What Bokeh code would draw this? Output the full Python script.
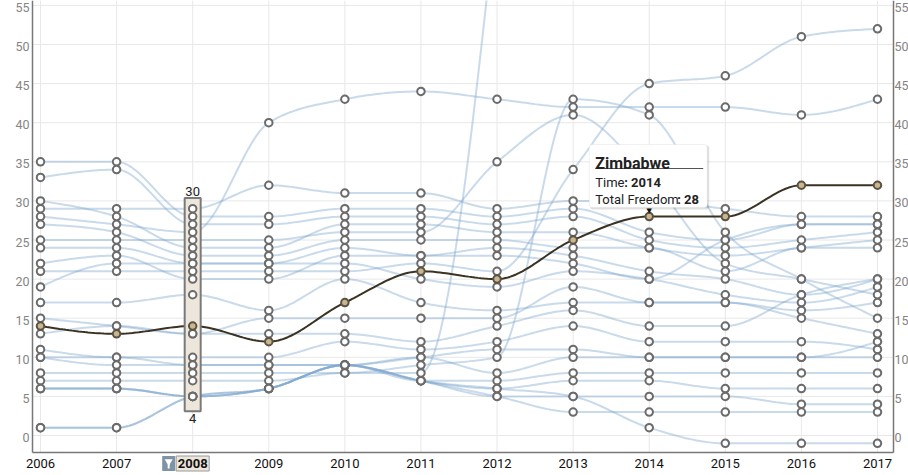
import numpy as np
from bokeh.plotting import figure
from bokeh.models import Range1d, Label, BoxAnnotation
from bokeh.core.properties import value
from bokeh.embed import file_html
from bokeh.resources import INLINE

nan = float("nan")

# Total Freedom score per year
years = [2006, 2007, 2008, 2009, 2010, 2011, 2012, 2013, 2014, 2015, 2016, 2017]
y_ticks = [0, 5, 10, 15, 20, 25, 30, 35, 40, 45, 50, 55]

zimbabwe = [14, 13, 14, 12, 17, 21, 20, 25, 28, 28, 32, 32]

s01 = [28, 27, 26, 40, 43, 44, 43, 42, 42, 42, 41, 43]
s02 = [21, 21, 21, 21, 21, 22, 21, 34, 45, 46, 51, 52]
s03 = [29, 29, 29, 32, 31, 31, 29, 30, 30, 29, 28, 28]
s04 = [25, 25, 25, 25, 26, 26, 35, 41, 33, 22, 20, 18]
s05 = [8, 8, 8, 8, 8, 9, 10, 43, 41, 26, 20, 15]
s06 = [7, 7, 7, 7, 8, 8, 68, nan, nan, nan, nan, nan]
s07 = [35, 35, 28, 28, 29, 29, 28, 29, 26, 25, 27, 27]
s08 = [33, 34, 27, 27, 28, 28, 27, 28, 25, 24, 25, 26]
s09 = [30, 28, 24, 24, 27, 27, 26, 26, 24, 23, 24, 25]
s10 = [27, 26, 23, 23, 25, 25, 25, 24, 24, 21, 24, 24]
s11 = [24, 24, 22, 22, 24, 23, 24, 23, 21, 20, 18, 20]
s12 = [22, 23, 20, 20, 23, 23, 23, 22, 20, 25, 27, 27]
s13 = [19, 22, 22, 22, 22, 20, 19, 21, 20, 18, 17, 19]
s14 = [17, 17, 18, 16, 20, 17, 16, 17, 17, 17, 16, 17]
s15 = [15, 14, 13, 15, 15, 15, 15, 19, 17, 17, 15, 13]
s16 = [13, 14, 13, 13, 13, 12, 14, 16, 14, 14, 18, 20]
s17 = [11, 10, 10, 10, 12, 11, 12, 14, 12, 12, 12, 11]
s18 = [10, 10, 9, 9, 9, 10, 11, 11, 10, 10, 10, 10]
s19 = [10, 9, 9, 9, 9, 10, 8, 10, 10, 10, 10, 12]
s20 = [6, 6, 5, 6, 9, 7, 7, 8, 8, 8, 8, 8]
s21 = [6, 6, 5, 6, 9, 7, 6, 7, 7, 6, 6, 6]
s22 = [1, 1, 5, 6, 9, 7, 5, 5, 5, 5, 4, 4]
s23 = [1, 1, 5, 6, 9, 7, 5, 3, 3, 3, 3, 3]
s24 = [6, 6, 5, 6, 9, 7, 6, 5, 1, -1, -1, -1]

others = [s01, s02, s03, s04, s05, s06, s07, s08, s09, s10, s11, s12,
          s13, s14, s15, s16, s17, s18, s19, s20, s21, s22, s23, s24]

brush_year = 2008
brush_lo, brush_hi = 4, 30
tip_year = 2014


def monotone_path(xs, ys, steps=24):
    # same curve as d3.curveMonotoneX
    xs = np.asarray(xs, float)
    ys = np.asarray(ys, float)
    ok = ~np.isnan(ys)
    xs, ys = xs[ok], ys[ok]
    n = len(xs)
    h = np.diff(xs)
    s = np.diff(ys) / h
    t = np.zeros(n)
    for i in range(1, n - 1):
        p = (s[i - 1] * h[i] + s[i] * h[i - 1]) / (h[i - 1] + h[i])
        sg = (1 if s[i - 1] >= 0 else -1) + (1 if s[i] >= 0 else -1)
        t[i] = sg * min(abs(s[i - 1]), abs(s[i]), 0.5 * abs(p))
    if n > 2:
        t[0] = (3 * s[0] - t[1]) / 2
        t[-1] = (3 * s[-1] - t[-2]) / 2
    else:
        t[:] = s[0]
    u = np.linspace(0, 1, steps, endpoint=False)
    h00 = 2 * u**3 - 3 * u**2 + 1
    h10 = u**3 - 2 * u**2 + u
    h01 = -2 * u**3 + 3 * u**2
    h11 = u**3 - u**2
    px, py = [], []
    for i in range(n - 1):
        px.extend(xs[i] + u * h[i])
        py.extend(h00 * ys[i] + h10 * h[i] * t[i] + h01 * ys[i + 1] + h11 * h[i] * t[i + 1])
    px.append(xs[-1])
    py.append(ys[-1])
    return px, py


# the frame covers the whole canvas; axes, labels and grid are drawn as glyphs
W, H = 908, 475
px_x = 76.09          # pixels per year
px_y = 7.82           # pixels per point
x_start = years[0] - 40 / px_x
x_end = x_start + W / px_x
y_end = 435 / px_y
y_start = y_end - H / px_y

x_left = x_start + 32 / px_x      # left axis
x_right = x_start + 893 / px_x    # right axis
axis_y = y_end - 452 / px_y       # bottom axis

p = figure(frame_width=W, frame_height=H, output_backend="svg", toolbar_location=None,
           x_range=Range1d(x_start, x_end), y_range=Range1d(y_start, y_end),
           x_axis_location=None, y_axis_location=None, min_border=0)
p.outline_line_color = None
p.background_fill_color = "white"
p.grid.visible = False

# grid
p.segment(x0=[x_left] * len(y_ticks), x1=[x_right] * len(y_ticks), y0=y_ticks, y1=y_ticks,
          line_color="#e8e8e8", line_width=1)
p.segment(x0=years, x1=years, y0=[axis_y] * len(years), y1=[y_end] * len(years),
          line_color="#e8e8e8", line_width=1)

# country lines
xs_all, ys_all = [], []
for ser in others:
    cx, cy = monotone_path(years, ser)
    xs_all.append(cx)
    ys_all.append(cy)
p.multi_line(xs=xs_all, ys=ys_all, line_color="#7fa7cc", line_alpha=0.42, line_width=2)

zx, zy = monotone_path(years, zimbabwe)
p.line(zx, zy, line_color="#3b3222", line_width=2)

# brush on 2008
b_top = brush_hi + 3 / px_y
b_bot = brush_lo - 7 / px_y
p.rect(x=[brush_year], y=[(b_top + b_bot) / 2], width=16, width_units="screen",
       height=b_top - b_bot, fill_color="#ede6da", line_color="#7a7a7a", line_width=2)
p.add_layout(Label(x=brush_year, y=b_top, text=str(brush_hi), text_align="center",
                   text_baseline="bottom", y_offset=2, text_font="Roboto",
                   text_font_size="13px", text_color="#222222"))
p.add_layout(Label(x=brush_year, y=b_bot, text=str(brush_lo), text_align="center",
                   text_baseline="top", y_offset=-3, text_font="Roboto",
                   text_font_size="13px", text_color="#222222"))

# axis lines
p.segment(x0=[x_left, x_right, x_left], x1=[x_left, x_right, x_right],
          y0=[axis_y, axis_y, axis_y], y1=[y_end, y_end, axis_y],
          line_color="#777777", line_width=1.5)

# y tick labels on both sides
p.text(x=[x_left] * len(y_ticks), y=y_ticks, text=[str(v) for v in y_ticks], x_offset=-3,
       y_offset=2, text_align="right", text_baseline="middle", text_font=value("Roboto"),
       text_font_size="12.5px", text_color="#858585")
p.text(x=[x_right] * len(y_ticks), y=y_ticks, text=[str(v) for v in y_ticks], x_offset=1,
       y_offset=2, text_align="left", text_baseline="middle", text_font=value("Roboto"),
       text_font_size="12.5px", text_color="#858585")

# points
pt_x, pt_y = [], []
for ser in others:
    for yr, v in zip(years, ser):
        if not np.isnan(v) and axis_y < v < y_end:
            pt_x.append(yr)
            pt_y.append(v)
p.scatter(pt_x, pt_y, size=7.5, fill_color="white", line_color="#6b6b6b", line_width=2)
p.scatter(years, zimbabwe, size=7.5, fill_color="#c9b68c", line_color="#5a5244", line_width=2)

# year labels, with the filtered year highlighted
label_y = axis_y - 11 / px_y
plain_years = [yr for yr in years if yr != brush_year]
p.text(x=plain_years, y=[label_y] * len(plain_years), text=[str(yr) for yr in plain_years],
       text_align="center", text_baseline="middle", text_font=value("Roboto"),
       text_font_size="13px", text_color="#111111")
p.rect(x=[brush_year], y=[label_y], width=33, height=15, width_units="screen",
       height_units="screen", fill_color="#ede6da", line_color="#999999", line_width=1)
icon_x = brush_year - 24 / px_x
p.rect(x=[icon_x], y=[label_y], width=13, height=15, width_units="screen",
       height_units="screen", fill_color="#7d93a6", line_color=None)
p.scatter(x=[icon_x], y=[label_y + 2 / px_y], marker="inverted_triangle",
          size=8, fill_color="white", line_color=None)
p.rect(x=[icon_x], y=[label_y - 2 / px_y], width=2, height=6,
       width_units="screen", height_units="screen", fill_color="white", line_color=None)
p.text(x=[brush_year], y=[label_y], text=[str(brush_year)], text_align="center",
       text_baseline="middle", text_font=value("Roboto"), text_font_size="13px",
       text_font_style="bold", text_color="#111111")

# tooltip for Zimbabwe 2014
tip_val = zimbabwe[years.index(tip_year)]


def dx(px):
    return tip_year + px / px_x


def dy(px):
    return tip_val + px / px_y


p.add_layout(BoxAnnotation(left=dx(-59), right=dx(60), top=dy(71), bottom=dy(7),
                           fill_color="black", fill_alpha=0.12, line_color=None,
                           border_radius=3))
p.add_layout(BoxAnnotation(left=dx(-60), right=dx(58), top=dy(72), bottom=dy(9),
                           fill_color="white", fill_alpha=1, line_color="#cccccc",
                           line_width=1, border_radius=3))
p.add_layout(BoxAnnotation(left=dx(-54), right=dx(54), top=dy(48.5), bottom=dy(47.5),
                           fill_color="#555555", fill_alpha=1, line_color=None))

tip_font = dict(text_font="Roboto", text_baseline="alphabetic", text_color="#222222")
p.add_layout(Label(x=tip_year, y=tip_val, x_offset=-54, y_offset=53, text="Zimbabwe",
                   text_font_size="16px", text_font_style="bold", **tip_font))
p.add_layout(Label(x=tip_year, y=tip_val, x_offset=-54, y_offset=34, text="Time",
                   text_font_size="13px", **tip_font))
p.add_layout(Label(x=tip_year, y=tip_val, x_offset=-25, y_offset=34, text=": " + str(tip_year),
                   text_font_size="13px", text_font_style="bold", **tip_font))
p.add_layout(Label(x=tip_year, y=tip_val, x_offset=-54, y_offset=17, text="Total Freedom",
                   text_font_size="13px", **tip_font))
p.add_layout(Label(x=tip_year, y=tip_val, x_offset=28, y_offset=17, text=": " + str(tip_val),
                   text_font_size="13px", text_font_style="bold", **tip_font))
p.add_layout(Label(x=tip_year, y=tip_val, y_offset=6, text="\u25bc", text_align="center",
                   text_baseline="middle", text_font="DejaVu Sans", text_font_size="7px",
                   text_color="#111111"))

open("out.html", "w").write(file_html(p, INLINE))
